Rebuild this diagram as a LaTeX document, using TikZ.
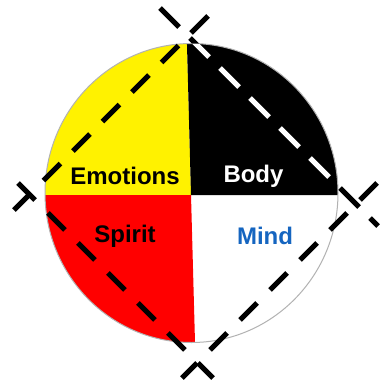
\documentclass[tikz,border=0pt]{standalone}
\usepackage{fontspec}
\setmainfont{Liberation Sans}
\begin{document}
\begin{tikzpicture}[x=1pt,y=-1pt,
  dl/.style={line width=5pt},
  dlA/.style={dl,dash pattern=on 26.87pt off 15.56pt},
  dlB/.style={dl,dash pattern=on 24.04pt off 17.68pt},
  dlC/.style={dl,dash pattern=on 24.04pt off 18.38pt},
  lbl/.style={font=\bfseries\fontsize{24}{24}\selectfont,inner sep=0pt,anchor=base}]
\useasboundingbox (0,0) rectangle (380,383);
\fill[white] (0,0) rectangle (380,383);
\def\wheel{(191.5,193) ellipse [x radius=146.5,y radius=149.5]}
\begin{scope}
  \clip \wheel;
  \fill[yellow] (0,0) -- (185.8,0) -- (191,195) -- (0,195) -- cycle;
  \fill[black] (185.8,0) -- (380,0) -- (380,195) -- (191,195) -- cycle;
  \fill[red] (0,195) -- (191,195) -- (196.1,383) -- (0,383) -- cycle;
\end{scope}
\draw[gray!60,line width=1pt] \wheel;
\coordinate (a1) at (160,8);   \coordinate (a2) at (378,226);
\coordinate (b1) at (208,16);  \coordinate (b2) at (14,210);
\coordinate (c1) at (18,183);  \coordinate (c2) at (213,378);
\coordinate (d1) at (377,183); \coordinate (d2) at (182,378);
\draw[dlA] (a1) -- (a2);
\draw[dlB] (b1) -- (b2);
\draw[dlC] (c1) -- (c2);
\draw[dlC] (d1) -- (d2);
\begin{scope}
  \clip \wheel;
  \clip (185.8,0) -- (380,0) -- (380,195) -- (191,195) -- cycle;
  \draw[dlA,white] (a1) -- (a2);
\end{scope}
\node[lbl] (emo) at (125,184) {Emotions};
\node[lbl,white] (body) at (253.5,182) {Body};
\node[lbl] (spirit) at (125,242) {Spirit};
\node[lbl,text={rgb,255:red,21;green,101;blue,192}] (mind) at (265,244) {Mind};
\end{tikzpicture}
\end{document}
